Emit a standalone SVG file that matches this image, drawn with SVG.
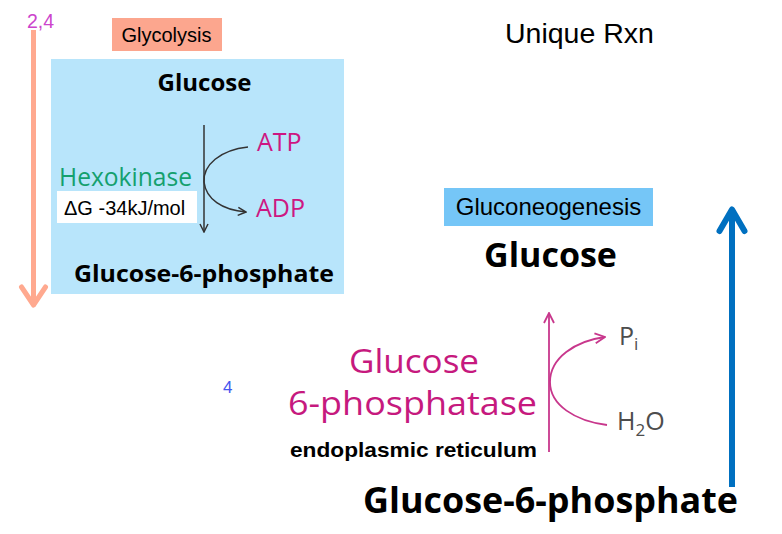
<svg xmlns="http://www.w3.org/2000/svg" width="782" height="534" viewBox="0 0 782 534">
  <defs>
    <style>
      .os { font-family: "Open Sans", "Noto Sans", sans-serif; }
      .ar { font-family: "Liberation Sans", Arial, sans-serif; }
      .b { font-weight: bold; }
      .mag { fill: #CD1782; }
      .pink { fill: #C6197E; }
      .grey { fill: #4D4D4D; }
      .dark { stroke: #333333; stroke-width: 1.5; fill: none; }
      .mline { stroke: #C8378C; stroke-width: 1.8; fill: none; }
    </style>
    <marker id="mk-dark" viewBox="0 0 10 10" refX="9" refY="5" markerWidth="10" markerHeight="10" markerUnits="userSpaceOnUse" orient="auto">
      <path d="M1,1 L9,5 L1,9" fill="none" stroke="#333333" stroke-width="1.5"/>
    </marker>
    <marker id="mk-mag" viewBox="0 0 12 12" refX="11" refY="6" markerWidth="12" markerHeight="12" markerUnits="userSpaceOnUse" orient="auto">
      <path d="M1,1 L11,6 L1,11" fill="none" stroke="#C8378C" stroke-width="1.8"/>
    </marker>
  </defs>
  <rect width="782" height="534" fill="#FFFFFF"/>

  <g id="connectors">
    <g id="glycolysis-direction">
      <line x1="33.5" y1="30" x2="33.5" y2="304" stroke="#FFA98F" stroke-width="5"/>
      <polyline points="21.5,287 33.5,305 45.5,287" fill="none" stroke="#FFA98F" stroke-width="5" stroke-linecap="round" stroke-linejoin="round"/>
    </g>
    <g id="gluconeogenesis-direction">
      <line x1="732" y1="487" x2="732" y2="212" stroke="#0070C0" stroke-width="6"/>
      <polyline points="719.5,231 732,209.5 744.5,231" fill="none" stroke="#0070C0" stroke-width="6" stroke-linecap="round" stroke-linejoin="round"/>
    </g>
  </g>

  <g id="label-2-4">
    <text x="27" y="28" class="ar" font-size="19.5" fill="#CC44CC">2,4</text>
  </g>

  <g id="glycolysis-label">
    <rect x="112" y="18" width="110" height="33" fill="#FCA68E"/>
    <text x="166.5" y="42" class="ar" font-size="20" text-anchor="middle" fill="#000000">Glycolysis</text>
  </g>

  <g id="hexokinase-reaction">
    <rect x="51" y="59" width="293" height="235" fill="#B8E5FB"/>
    <text x="204.5" y="91" class="os b" font-size="24" text-anchor="middle" fill="#000000">Glucose</text>
    <line x1="204" y1="125" x2="204" y2="232" class="dark" marker-end="url(#mk-dark)"/>
    <path d="M248,147 C220,150 203,165 204,182 C206,199 222,210 246,212" class="dark" marker-end="url(#mk-dark)"/>
    <text x="257" y="151" class="os mag" font-size="25">ATP</text>
    <text x="256" y="217" class="os mag" font-size="25">ADP</text>
    <text x="59" y="186" class="os" font-size="25" fill="#14A06E" textLength="133" lengthAdjust="spacingAndGlyphs">Hexokinase</text>
    <rect x="57" y="191" width="140" height="32" fill="#FFFFFF"/>
    <text x="64" y="215" class="ar" font-size="20" fill="#000000">ΔG -34kJ/mol</text>
    <text x="74" y="282" class="os b" font-size="24" fill="#000000" textLength="260" lengthAdjust="spacingAndGlyphs">Glucose-6-phosphate</text>
  </g>

  <g id="unique-rxn">
    <text x="505" y="43" class="ar" font-size="28.5" fill="#000000">Unique Rxn</text>
  </g>

  <g id="gluconeogenesis-label">
    <rect x="444" y="188" width="209" height="38" fill="#75C6F7"/>
    <text x="548.5" y="215" class="ar" font-size="24" text-anchor="middle" fill="#000000">Gluconeogenesis</text>
  </g>

  <g id="label-4">
    <text x="223" y="393" class="ar" font-size="17" fill="#4455EE">4</text>
  </g>

  <g id="phosphatase-reaction">
    <text x="550.5" y="267" class="os b" font-size="34" text-anchor="middle" fill="#000000">Glucose</text>
    <line x1="549" y1="452" x2="549" y2="313" class="mline" marker-end="url(#mk-mag)"/>
    <path d="M607,425 C575,421 550,405 550,382 C550,358 575,341 605,337" class="mline" marker-end="url(#mk-mag)"/>
    <text x="619" y="345" class="os grey" font-size="25">P<tspan font-size="17" dy="5">i</tspan></text>
    <text x="617" y="430" class="os grey" font-size="25">H<tspan font-size="17" dy="6">2</tspan><tspan dy="-6">O</tspan></text>
    <text x="349" y="373" class="os pink" font-size="33" textLength="130" lengthAdjust="spacingAndGlyphs">Glucose</text>
    <text x="288" y="415" class="os pink" font-size="33" textLength="249" lengthAdjust="spacingAndGlyphs">6-phosphatase</text>
    <text x="290" y="457" class="ar b" font-size="21" fill="#000000" textLength="247" lengthAdjust="spacingAndGlyphs">endoplasmic reticulum</text>
    <text x="363" y="513" class="os b" font-size="35" fill="#000000" textLength="375" lengthAdjust="spacingAndGlyphs">Glucose-6-phosphate</text>
  </g>
</svg>
